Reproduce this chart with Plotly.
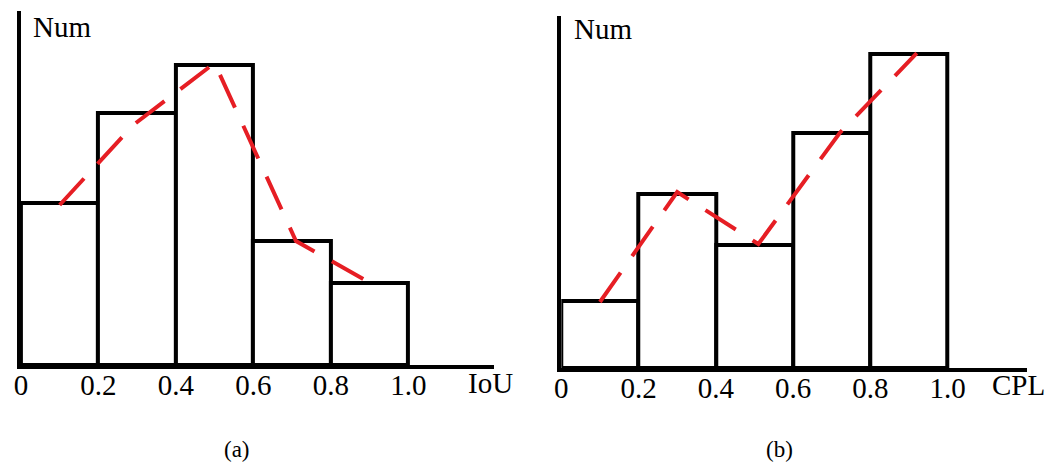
import plotly.graph_objects as go

W, H = 1048, 466

# ---- data ----
bin_centers = [0.1, 0.3, 0.5, 0.7, 0.9]
bin_width = 0.2
tick_vals = [0, 0.2, 0.4, 0.6, 0.8, 1.0]
tick_text = ["0", "0.2", "0.4", "0.6", "0.8", "1.0"]

iou_num = [4.05, 6.3, 7.5, 3.1, 2.05]
iou_curve_x = [0.1, 0.29, 0.5, 0.71, 0.92]
iou_curve_y = [4.0, 6.0, 7.55, 3.1, 1.95]

cpl_num = [1.68, 4.35, 3.08, 5.88, 7.85]
cpl_curve_x = [0.1, 0.3, 0.51, 0.72, 0.92]
cpl_curve_y = [1.65, 4.4, 3.1, 5.87, 7.87]

FONT = "Liberation Serif"
RED = "rgb(230,30,36)"


def px(x):
    return x / W


def py(y):
    return (H - y) / H


fig = go.Figure()

for xa, ya, vals, cx, cy in [("x", "y", iou_num, iou_curve_x, iou_curve_y),
                             ("x2", "y2", cpl_num, cpl_curve_x, cpl_curve_y)]:
    fig.add_trace(go.Bar(
        x=bin_centers, y=vals, width=bin_width,
        marker=dict(color="white", line=dict(color="black", width=4)),
        xaxis=xa, yaxis=ya, showlegend=False, hoverinfo="skip"))
    fig.add_trace(go.Scatter(
        x=cx, y=cy, mode="lines",
        line=dict(color=RED, width=4, dash="36px,20px"),
        xaxis=xa, yaxis=ya, showlegend=False, hoverinfo="skip"))

axis_common = dict(showgrid=False, zeroline=False, showline=True,
                   linecolor="black", linewidth=4, fixedrange=True)
tickfont = dict(family=FONT, size=29, color="black")

fig.update_layout(
    width=W, height=H,
    margin=dict(l=0, r=0, t=0, b=0),
    paper_bgcolor="white", plot_bgcolor="white",
    bargap=0,
    font=dict(family=FONT, color="black", size=29),
    xaxis=dict(domain=[px(14), px(490)], range=[0, 476 / 390], anchor="y",
               tickmode="array", tickvals=tick_vals, ticktext=tick_text,
               ticks="", tickfont=tickfont, ticklabelstandoff=-9,
               **axis_common),
    yaxis=dict(domain=[py(365), py(11)], range=[0, 354 / 40], anchor="x",
               showticklabels=False, ticks="", **axis_common),
    xaxis2=dict(domain=[px(558), px(1027)], range=[0, 469 / 389], anchor="y2",
                tickmode="array", tickvals=tick_vals, ticktext=tick_text,
                ticks="", tickfont=tickfont, ticklabelstandoff=-9,
                **axis_common),
    yaxis2=dict(domain=[py(368), py(16)], range=[0, 352 / 40], anchor="x2",
                showticklabels=False, ticks="", **axis_common),
)

annots = [
    ("Num", 55, 27, 29),
    ("Num", 600, 29, 29),
    ("IoU", 487, 383, 29),
    ("CPL", 1018, 385, 29),
    ("(a)", 232, 449, 23),
    ("(b)", 778, 449, 23),
]
for text, x, y, size in annots:
    fig.add_annotation(text=text, x=px(x), y=py(y), xref="paper", yref="paper",
                       xanchor="center", yanchor="middle", showarrow=False,
                       font=dict(family=FONT, size=size, color="black"))

fig.write_html("out.html", config={"displayModeBar": False},
               post_script="document.body.style.margin='0';"
                           "document.body.style.overflow='hidden';")
